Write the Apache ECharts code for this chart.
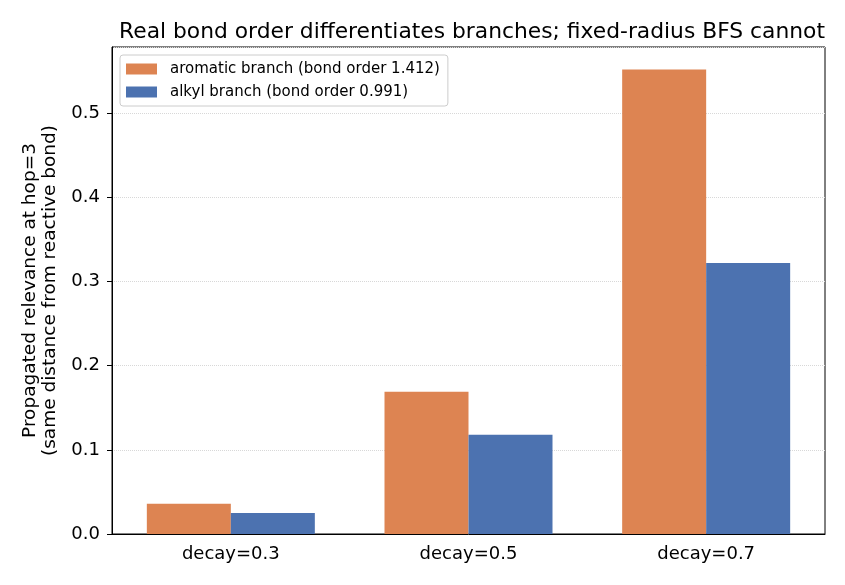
<!DOCTYPE html>
<html>
<head>
<meta charset="utf-8">
<script src="https://cdn.jsdelivr.net/npm/echarts@6/dist/echarts.min.js"></script>
<style>
  html, body { margin: 0; padding: 0; background: #fff; }
  #grafico { width: 845px; height: 585px; }
</style>
</head>
<body>
<div id="grafico"></div>
<script>
/* valores */
var categorias = ['decay=0.3', 'decay=0.5', 'decay=0.7'];
var aromatico = [0.036, 0.169, 0.552];
var alquila = [0.025, 0.118, 0.322];
var nomes = ['aromatic branch (bond order 1.412)', 'alkyl branch (bond order 0.991)'];

var dom = document.getElementById("grafico");
var myChart = echarts.init(dom);
var fonte = 'DejaVu Sans';

var option = {
    animation: false,
    textStyle: { fontFamily: fonte },
    title: {
        text: 'Real bond order differentiates branches; fixed-radius BFS cannot',
        left: 467,
        top: 16,
        textAlign: 'center',
        textStyle: { fontFamily: fonte, fontSize: 21.8, fontWeight: 'normal', color: '#000' }
    },
    legend: {
        orient: 'vertical',
        left: 120,
        top: 55,
        padding: [6, 8, 6, 6],
        itemWidth: 31,
        itemHeight: 11,
        itemGap: 7,
        icon: 'rect',
        borderColor: '#cccccc',
        borderWidth: 1,
        borderRadius: 3,
        backgroundColor: 'rgba(255,255,255,0.8)',
        textStyle: { fontFamily: fonte, fontSize: 15, color: '#000', padding: [0, 0, 0, 8], lineHeight: 16 },
        data: nomes
    },
    grid: {
        left: 112,
        right: 20,
        top: 47,
        bottom: 51,
        show: true,
        borderColor: '#000',
        borderWidth: 1,
        containLabel: false
    },
    xAxis: {
        type: 'category',
        data: categorias,
        axisLine: { lineStyle: { color: '#000', width: 1 } },
        axisTick: { alignWithLabel: true, length: 5, lineStyle: { color: '#000' } },
        axisLabel: { margin: 11, fontFamily: fonte, fontSize: 18, color: '#000' },
        splitLine: { show: false }
    },
    yAxis: {
        type: 'value',
        min: 0,
        max: 0.5788,
        interval: 0.1,
        name: 'Propagated relevance at hop=3\n(same distance from reactive bond)',
        nameLocation: 'middle',
        nameGap: 51,
        nameTextStyle: { fontFamily: fonte, fontSize: 18.5, color: '#000', lineHeight: 20 },
        axisLine: { show: true, lineStyle: { color: '#000', width: 1 } },
        axisTick: { show: true, length: 5, lineStyle: { color: '#000' } },
        axisLabel: {
            margin: 12,
            fontFamily: fonte,
            fontSize: 18,
            color: '#000',
            showMaxLabel: false,
            formatter: function (v) { return v.toFixed(1); }
        },
        splitLine: { show: true, lineStyle: { color: '#d8d8d8', type: 'dotted', width: 1 } }
    },
    series: [{
        name: nomes[0],
        type: 'bar',
        data: aromatico,
        barWidth: 84,
        barGap: '0%',
        itemStyle: { color: '#DD8452' }
    }, {
        name: nomes[1],
        type: 'bar',
        data: alquila,
        barWidth: 84,
        barGap: '0%',
        itemStyle: { color: '#4C72B0' }
    }]
};

if (option && typeof option === "object") {
    myChart.setOption(option, true);
}
</script>
</body>
</html>
